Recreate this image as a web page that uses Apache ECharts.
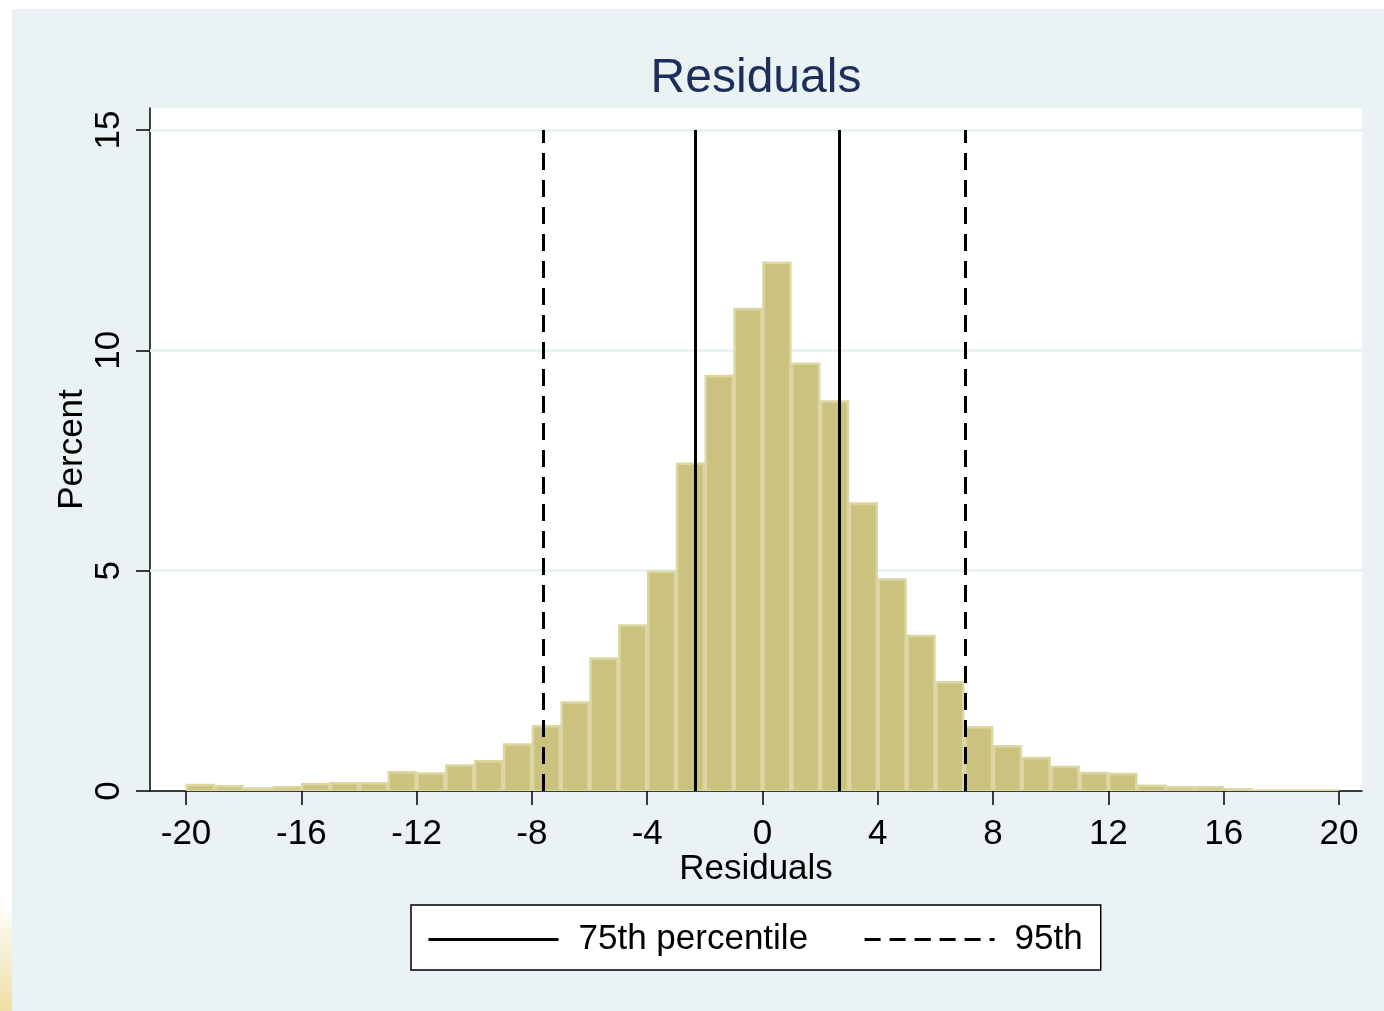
<!DOCTYPE html>
<html>
<head>
<meta charset="utf-8">
<script src="https://cdn.jsdelivr.net/npm/echarts@6/dist/echarts.min.js"></script>
<style>
  html, body { margin: 0; padding: 0; background: #fff; }
  #main { width: 1384px; height: 1011px; }
</style>
</head>
<body>
<div id="main"></div>
<script>
// histogram bins (width 1) and bar heights in percent
const binStarts = [-20, -19, -18, -17, -16, -15, -14, -13, -12, -11, -10, -9, -8, -7, -6, -5, -4, -3, -2, -1,
  0, 1, 2, 3, 4, 5, 6, 7, 8, 9, 10, 11, 12, 13, 14, 15, 16, 17, 18, 19];
const binEnds = [-19, -18, -17, -16, -15, -14, -13, -12, -11, -10, -9, -8, -7, -6, -5, -4, -3, -2, -1, 0,
  1, 2, 3, 4, 5, 6, 7, 8, 9, 10, 11, 12, 13, 14, 15, 16, 17, 18, 19, 20];
const percent = [0.16, 0.13, 0.08, 0.11, 0.18, 0.20, 0.20, 0.45, 0.42, 0.60,
  0.70, 1.08, 1.49, 2.03, 3.03, 3.78, 5.00, 7.45, 9.44, 10.96,
  12.01, 9.72, 8.86, 6.55, 4.82, 3.54, 2.49, 1.47, 1.04, 0.77,
  0.57, 0.43, 0.41, 0.14, 0.11, 0.11, 0.06, 0.03, 0.03, 0.03];

const p75 = [-2.34, 2.65];
const p95 = [-7.61, 7.03];

const xTicks = [-20, -16, -12, -8, -4, 0, 4, 8, 12, 16, 20];
const yTicks = [0, 5, 10, 15];

const FONT = '"Liberation Sans", Arial, sans-serif';
const BG = '#EAF2F3';

const chart = echarts.init(document.getElementById('main'));

const histData = binStarts.map((s, i) => [s, binEnds[i], percent[i]]);

function vline(v) {
  return [{ coord: [v, 0] }, { coord: [v, 15] }];
}

const option = {
  animation: false,
  backgroundColor: '#fff',
  graphic: [
    { type: 'rect', z: -10, shape: { x: 12, y: 9, width: 1372, height: 1002 }, style: { fill: BG } },
    {
      type: 'rect', z: -10, shape: { x: 0, y: 900, width: 12, height: 111 },
      style: { fill: new echarts.graphic.LinearGradient(0, 0, 0, 1, [
        { offset: 0, color: '#ffffff' }, { offset: 1, color: '#EEDFA6' }]) }
    }
  ],
  title: {
    text: 'Residuals',
    left: 751,
    top: 50,
    textAlign: 'center',
    textStyle: { fontFamily: FONT, fontSize: 48, fontWeight: 'normal', color: '#1E2E5A' }
  },
  grid: {
    left: 150, right: 22, top: 108, bottom: 220,
    show: true, backgroundColor: '#fff', borderWidth: 0
  },
  legend: {
    left: 411, top: 905,
    padding: [17, 18, 13, 16],
    backgroundColor: '#fff',
    borderColor: '#000',
    borderWidth: 1.5,
    borderRadius: 0,
    itemWidth: 130,
    itemHeight: 3,
    itemGap: 55,
    itemStyle: { color: '#000' },
    lineStyle: { width: 3, color: '#000' },
    data: [
      { name: '75th percentile', lineStyle: { type: 'solid' } },
      { name: '95th', lineStyle: { type: [16, 9] } }
    ],
    textStyle: { fontFamily: FONT, fontSize: 35, color: '#000', padding: [0, 0, 0, 15] }
  },
  xAxis: {
    type: 'value',
    min: -21.25, max: 20.8,
    name: 'Residuals',
    nameLocation: 'middle',
    nameGap: 61,
    nameMoveOverlap: false,
    nameTextStyle: { fontFamily: FONT, fontSize: 35, color: '#000' },
    axisLine: { show: true, onZero: false, lineStyle: { color: '#000', width: 1.5 } },
    axisTick: { show: true, length: 14, lineStyle: { color: '#000', width: 1.5 }, customValues: xTicks },
    axisLabel: { fontFamily: FONT, fontSize: 35, color: '#000', margin: 26, customValues: xTicks },
    splitLine: { show: false }
  },
  yAxis: {
    type: 'value',
    min: 0, max: 15.5,
    name: 'Percent',
    nameLocation: 'middle',
    nameGap: 60,
    nameMoveOverlap: false,
    nameRotate: 90,
    nameTextStyle: { fontFamily: FONT, fontSize: 35, color: '#000' },
    axisLine: { show: true, onZero: false, lineStyle: { color: '#000', width: 1.5 } },
    axisTick: { show: true, length: 14, lineStyle: { color: '#000', width: 1.5 }, customValues: yTicks },
    axisLabel: { fontFamily: FONT, fontSize: 35, color: '#000', rotate: 90, margin: 23, customValues: yTicks },
    splitLine: { show: false }
  },
  series: [
    {
      name: 'grid',
      type: 'line',
      data: [],
      z: 1,
      silent: true,
      markLine: {
        silent: true,
        z: 1,
        symbol: 'none',
        label: { show: false },
        lineStyle: { color: BG, width: 3, type: 'solid' },
        data: yTicks.filter(v => v > 0).map(v => ({ yAxis: v }))
      }
    },
    {
      name: 'hist',
      type: 'custom',
      z: 2,
      clip: true,
      data: histData,
      renderItem: function (params, api) {
        const top = api.coord([api.value(0), api.value(2)]);
        const bot = api.coord([api.value(1), 0]);
        return {
          type: 'rect',
          shape: { x: top[0] + 1, y: top[1] + 1, width: bot[0] - top[0] - 2, height: bot[1] - top[1] - 1 },
          style: { fill: '#CAC27E', stroke: '#DCD7A2', lineWidth: 2.5 }
        };
      }
    },
    {
      name: '75th percentile',
      type: 'line',
      data: [],
      symbol: 'none',
      z: 5,
      itemStyle: { color: '#000' },
      lineStyle: { color: '#000', width: 3, type: 'solid' },
      markLine: {
        silent: true,
        symbol: 'none',
        label: { show: false },
        lineStyle: { color: '#000', width: 3, type: 'solid' },
        data: p75.map(vline)
      }
    },
    {
      name: '95th',
      type: 'line',
      data: [],
      symbol: 'none',
      z: 5,
      itemStyle: { color: '#000' },
      lineStyle: { color: '#000', width: 3, type: [16, 9] },
      markLine: {
        silent: true,
        symbol: 'none',
        label: { show: false },
        lineStyle: { color: '#000', width: 3, type: [17, 10] },
        data: p95.map(vline)
      }
    }
  ]
};

chart.setOption(option);
</script>
</body>
</html>
